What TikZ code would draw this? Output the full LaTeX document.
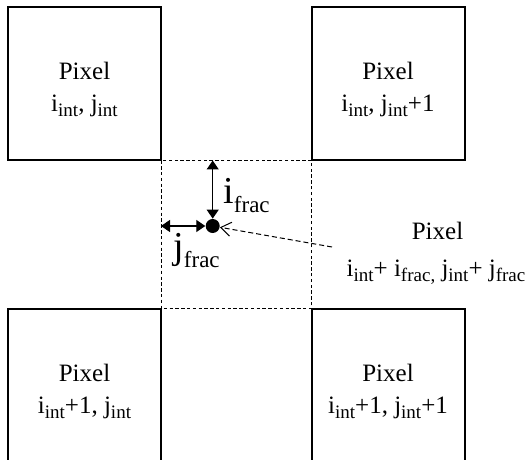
\documentclass[tikz,border=0pt]{standalone}
\usepackage{fontspec}
\setmainfont{Liberation Serif}
\usetikzlibrary{arrows.meta}
\newcommand\smallsub[1]{\raisebox{-2.5pt}{\fontsize{9.5}{9.5}\selectfont #1}}
\newcommand\bigsub[1]{\raisebox{-4.5pt}{\fontsize{11.5}{11.5}\selectfont #1}}
\begin{document}
\begin{tikzpicture}[x=0.5pt,y=-0.5pt,
  pixbox/.style={draw, line width=1pt, minimum size=76.5pt, inner sep=0pt, outer sep=0pt},
  lbl/.style={anchor=base, inner sep=0pt, font=\fontsize{12.5}{12.5}\selectfont},
  biglbl/.style={anchor=base west, inner sep=0pt, font=\fontsize{19}{19}\selectfont},
  guide/.style={line width=0.5pt, dash pattern=on 1.7pt off 1.2pt},
  dimarrow/.style={{Triangle[length=4.5pt,width=6pt]}-{Triangle[length=4.5pt,width=6pt]}, line width=0.6pt},
  ptr/.style={-{Straight Barb[length=5pt,width=7pt]}, line width=0.5pt, dash pattern=on 2.5pt off 1.5pt},
  dotnode/.style={circle, fill=black, minimum size=7pt, inner sep=0pt}]
\useasboundingbox (0,0) rectangle (525,460);

% pixel boxes
\node[pixbox] (tl) at (84.5,84) {};
\node[pixbox] (tr) at (388,84) {};
\node[pixbox] (bl) at (84.5,385) {};
\node[pixbox] (br) at (388,385) {};

% box labels
\node[lbl] (tlA) at (84.5,80) {Pixel};
\node[lbl] (tlB) at (84.5,112) {i\smallsub{int}, j\smallsub{int}};
\node[lbl] (trA) at (388,80) {Pixel};
\node[lbl] (trB) at (388,112) {i\smallsub{int}, j\smallsub{int}+1};
\node[lbl] (blA) at (84.5,381) {Pixel};
\node[lbl] (blB) at (84.5,413) {i\smallsub{int}+1, j\smallsub{int}};
\node[lbl] (brA) at (388,381) {Pixel};
\node[lbl] (brB) at (388,413) {i\smallsub{int}+1, j\smallsub{int}+1};

% dashed cell between boxes
\draw[guide] (tl.south east) rectangle (br.north west);

% fractional position
\node[dotnode] (dot) at (212.7,226) {};
\draw[dimarrow] (dot |- tl.south) -- (dot.north);
\draw[dimarrow] (tl.south east |- dot) -- (dot.west);
\node[biglbl] (ifrac) at (223,204) {i\bigsub{frac}};
\node[biglbl] (jfrac) at (173,258) {j\bigsub{frac}};

% right label and pointer
\node[lbl] (rA) at (437.5,239) {Pixel};
\node[lbl] (rB) at (436,276) {i\smallsub{int}+ i\smallsub{frac,} j\smallsub{int}+ j\smallsub{frac}};
\coordinate (src) at (332,247);
\draw[ptr] (src) -- (dot);
\end{tikzpicture}
\end{document}
